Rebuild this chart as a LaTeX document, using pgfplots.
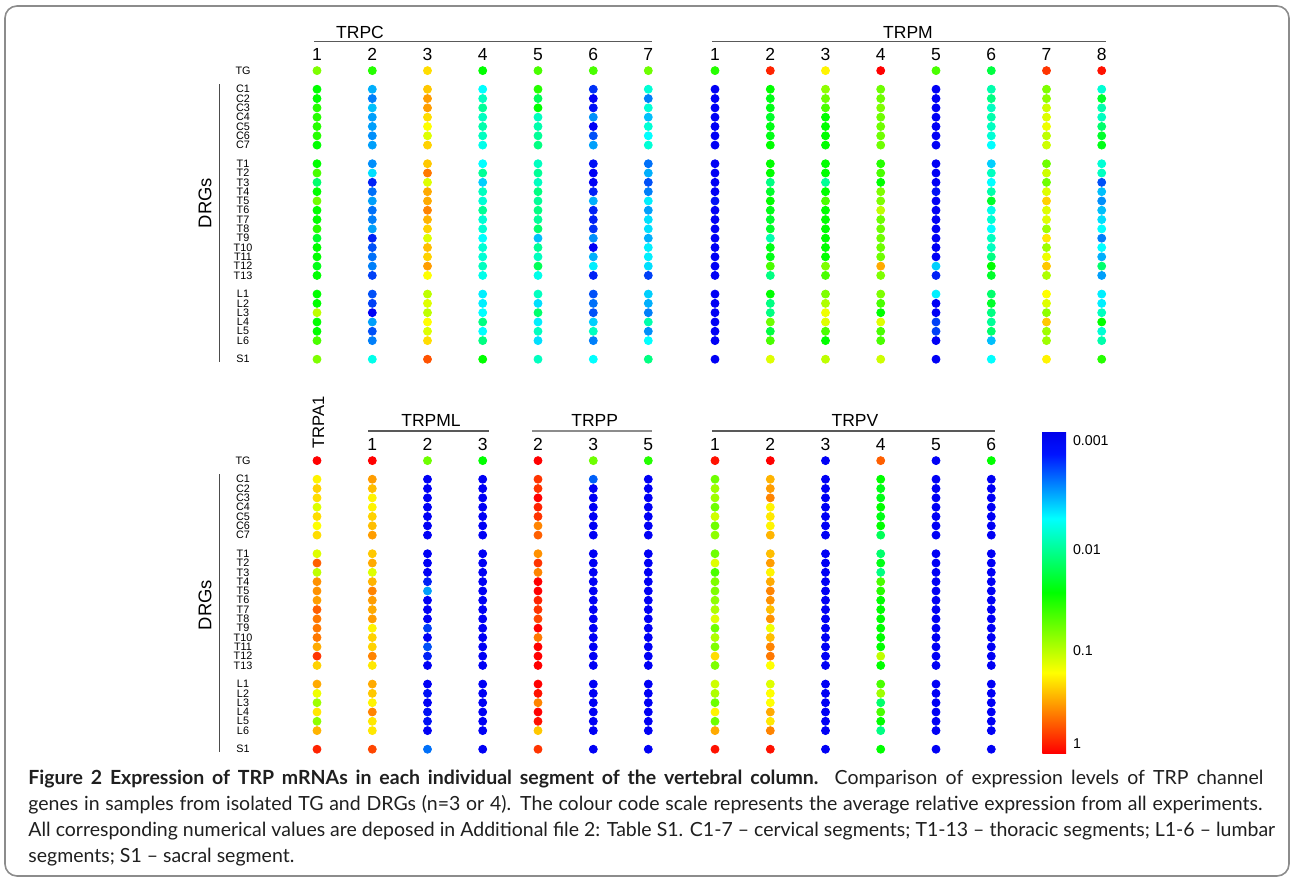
\documentclass[border=0pt]{standalone}
\usepackage{fontspec}
\setmainfont{Liberation Sans}
\newfontfamily\capfont{Lato}
\usepackage{pgfplots}
\usepackage{pgfplotstable}
\pgfplotsset{compat=1.18}

\pgfplotsset{
  colormap={barmap}{rgb255(0pt)=(255,0,0) rgb255(25pt)=(255,255,0) rgb255(50pt)=(0,255,0) rgb255(73pt)=(0,255,255) rgb255(93pt)=(0,20,255) rgb255(100pt)=(0,0,235)},
  colormap={dotmap}{rgb255(0pt)=(0,0,245) rgb255(80pt)=(0,255,255) rgb255(110pt)=(0,255,130) rgb255(140pt)=(0,255,0) rgb255(155pt)=(110,255,0) rgb255(180pt)=(190,255,0) rgb255(200pt)=(255,255,0) rgb255(220pt)=(255,210,0) rgb255(240pt)=(255,170,0) rgb255(260pt)=(255,120,0) rgb255(280pt)=(255,70,0) rgb255(300pt)=(255,0,0)},
  dots/.style={scatter, only marks, mark=*, mark size=2pt, point meta=explicit,
    scatter/use mapped color={draw=mapped color, fill=mapped color}},
  dotaxis/.style={anchor=north west, x=0.5pt, y=4.655pt, xmin=243, xmax=1110,
    ymin=-31.6, ymax=1.14, clip=false, axis line style={draw=none},
    major tick length=0pt, colormap name=dotmap, point meta min=-3, point meta max=0,
    xticklabel pos=right,
    xticklabel style={font=\fontsize{8.75pt}{10pt}\selectfont, anchor=base, inner sep=0pt},
    yticklabel style={font=\fontsize{5.4pt}{6pt}\selectfont, anchor=center},
    ytick={0,-2,-3,-4,-5,-6,-7,-8,-10,-11,-12,-13,-14,-15,-16,-17,-18,-19,-20,-21,-22,-24,-25,-26,-27,-28,-29,-31},
    yticklabels={TG,C1,C2,C3,C4,C5,C6,C7,T1,T2,T3,T4,T5,T6,T7,T8,T9,T10,T11,T12,T13,L1,L2,L3,L4,L5,L6,S1}},
}

% log10 relative expression (colour code), rows: TG, C1-7, T1-13, L1-6, S1
\pgfplotstableread{
r  C1    C2    C3    C4    C5    C6    C7    M1    M2    M3    M4    M5    M6    M7    M8
0  -1.4  -1.55 -0.85 -1.6  -1.5  -1.5  -1.45 -1.55 -0.1  -0.95 0     -1.5  -1.75 -0.15 -0.05
2  -1.6  -2.45 -0.75 -2.2  -1.55 -2.85 -2.1  -3    -1.6  -1.35 -1.45 -3    -2.0  -1.4  -2.1
3  -1.6  -2.6  -0.55 -2.05 -1.8  -3.0  -2.6  -3    -1.65 -1.45 -1.45 -3    -1.9  -1.35 -1.7
4  -1.55 -2.4  -0.55 -1.95 -1.6  -2.95 -2.1  -3    -1.65 -1.5  -1.4  -3    -2.05 -1.15 -2.0
5  -1.55 -2.5  -0.85 -2.05 -2.05 -2.55 -2.4  -3    -1.7  -1.6  -1.45 -3    -2.0  -1.1  -2.05
6  -1.55 -2.5  -1.0  -2.0  -2.0  -3.0  -2.1  -3    -1.65 -1.6  -1.45 -3    -2.05 -1.05 -1.85
7  -1.55 -2.55 -1.1  -2.05 -1.95 -2.75 -2.2  -3    -1.65 -1.6  -1.45 -3    -2.1  -1.2  -1.7
8  -1.6  -2.5  -0.8  -2.15 -1.9  -2.5  -2.1  -3    -1.6  -1.6  -1.45 -3    -2.2  -1.15 -1.65
10 -1.6  -2.55 -0.75 -2.2  -2.05 -2.95 -2.65 -3    -1.6  -1.6  -1.55 -3    -2.35 -1.45 -2.1
11 -1.5  -2.3  -0.4  -1.95 -1.95 -3.0  -2.45 -3    -1.6  -1.6  -1.5  -3    -2.05 -1.15 -2.05
12 -1.85 -2.9  -1.1  -2.35 -2.05 -3.0  -2.75 -3    -1.9  -1.95 -1.6  -3    -2.2  -1.45 -2.75
13 -1.6  -2.65 -0.6  -2.05 -1.9  -2.9  -2.6  -3    -1.7  -1.6  -1.4  -2.95 -2.0  -1.1  -2.4
14 -1.45 -2.5  -0.6  -2.1  -1.95 -2.45 -2.25 -2.95 -1.6  -1.5  -1.4  -3    -1.7  -0.8  -2.55
15 -1.6  -2.65 -0.45 -1.95 -1.9  -2.9  -2.5  -3    -1.65 -1.6  -1.2  -3    -2.15 -1.1  -2.4
16 -1.6  -2.6  -0.65 -2.1  -1.95 -2.9  -2.3  -3    -1.7  -1.6  -1.45 -3    -2.1  -1.1  -2.3
17 -1.55 -2.5  -0.8  -2.1  -1.85 -2.85 -2.3  -3    -1.7  -1.6  -1.45 -3    -2.2  -1.3  -2.2
18 -1.7  -2.9  -1.1  -2.2  -2.4  -2.55 -2.45 -3    -2.0  -1.6  -1.45 -3    -2.05 -0.9  -2.6
19 -1.6  -2.75 -0.7  -2.1  -1.95 -3.0  -2.25 -3    -1.65 -1.6  -1.45 -3    -2.05 -1.3  -2.2
20 -1.6  -2.65 -0.8  -2.1  -2.05 -2.45 -2.25 -3    -1.65 -1.6  -1.45 -3    -1.9  -1.05 -2.45
21 -1.65 -2.6  -0.55 -2.05 -1.8  -2.25 -2.3  -3    -1.5  -1.4  -0.6  -2.35 -1.6  -0.75 -1.85
22 -1.6  -2.8  -1.0  -2.15 -2.15 -2.9  -2.8  -3    -1.9  -1.5  -1.4  -2.9  -1.7  -1.25 -2.5
24 -1.6  -2.75 -1.2  -2.25 -2.05 -2.75 -2.35 -3    -1.6  -1.4  -1.4  -2.25 -1.85 -1.0  -2.25
25 -1.6  -2.8  -1.1  -2.25 -2.3  -2.65 -2.45 -3    -1.9  -1.25 -1.5  -3    -1.7  -1.1  -2.25
26 -1.2  -3.0  -1.2  -2.2  -1.85 -2.75 -2.6  -3    -1.9  -1.05 -1.6  -3    -1.9  -1.35 -2.05
27 -1.6  -2.5  -1.0  -1.9  -2.25 -2.35 -2.0  -3    -1.45 -1.1  -1.1  -2.8  -1.95 -0.75 -1.6
28 -1.6  -2.75 -1.1  -2.2  -2.05 -2.05 -2.55 -3    -1.75 -1.5  -1.5  -2.8  -1.85 -1.3  -2.1
29 -1.5  -2.6  -0.85 -1.9  -2.3  -2.6  -2.2  -3    -1.5  -1.6  -1.5  -3    -2.4  -1.3  -2.0
31 -1.4  -2.15 -0.25 -1.6  -2.05 -2.2  -1.9  -3    -1.1  -1.2  -1.15 -3    -2.2  -0.95 -1.55
}\toptab

\pgfplotstableread{
r  A1    ML1   ML2   ML3   P2    P3    P5    V1    V2    V3    V4    V5    V6
0  0     0     -1.45 -1.6  0     -1.45 -1.55 -0.05 0     -3    -0.3  -3    -1.6
2  -0.95 -0.55 -3    -3    -0.15 -2.7  -3    -1.45 -0.65 -3    -1.6  -3    -3
3  -0.8  -0.7  -3    -3    -0.15 -3    -3    -1.3  -0.55 -3    -1.65 -3    -3
4  -0.85 -0.95 -3    -3    0     -3    -3    -1.3  -0.45 -3    -1.65 -3    -3
5  -1.1  -0.95 -3    -3    -0.1  -3    -3    -1.45 -0.95 -3    -1.6  -3    -3
6  -0.85 -0.8  -3    -3    -0.15 -3    -3    -1.15 -0.9  -3    -1.65 -3    -3
7  -1.0  -0.7  -3    -3    -0.45 -3    -3    -1.45 -0.95 -3    -1.6  -3    -3
8  -0.85 -0.55 -3    -3    -0.3  -3    -3    -1.35 -0.65 -3    -1.8  -3    -3
10 -1.1  -0.75 -3    -3    -0.5  -3    -3    -1.45 -0.7  -3    -1.85 -3    -3
11 -0.3  -0.6  -3    -3    -0.15 -3    -3    -1.1  -0.55 -3    -1.65 -3    -3
12 -1.2  -1.1  -3    -3    -0.45 -3    -3    -1.5  -0.95 -3    -1.9  -3    -3
13 -0.5  -0.65 -2.9  -3    0     -3    -3    -1.4  -0.6  -3    -1.5  -3    -3
14 -0.5  -0.45 -2.5  -3    0     -3    -3    -1.4  -0.45 -3    -1.55 -3    -3
15 -0.55 -0.55 -3    -3    -0.1  -3    -3    -1.35 -0.5  -3    -1.6  -3    -3
16 -0.3  -0.6  -3    -3    -0.15 -3    -3    -1.25 -0.7  -3    -1.6  -3    -3
17 -0.4  -0.55 -3    -3    -0.2  -3    -3    -1.1  -0.5  -3    -1.6  -3    -3
18 -0.4  -0.95 -2.8  -3    0     -3    -3    -1.45 -1.05 -3    -1.6  -3    -3
19 -0.4  -0.8  -3    -3    -0.4  -3    -3    -1.25 -0.7  -3    -1.6  -3    -3
20 -0.6  -0.8  -2.75 -3    0     -3    -3    -1.4  -0.45 -3    -1.6  -3    -3
21 -0.15 -0.45 -2.9  -3    0     -3    -3    -0.85 -0.4  -3    -1.2  -3    -3
22 -0.8  -0.9  -3    -3    0     -3    -3    -1.4  -1.0  -3    -1.6  -3    -3
24 -0.6  -0.6  -3    -3    0     -3    -3    -1.15 -1.1  -3    -1.5  -3    -3
25 -1.05 -0.75 -2.95 -3    -0.05 -3    -3    -1.25 -1.0  -3    -1.3  -3    -3
26 -1.3  -0.95 -3    -3    -0.45 -3    -3    -1.45 -1.0  -3    -1.85 -3    -3
27 -0.9  -0.45 -2.95 -3    0     -3    -3    -0.95 -0.6  -3    -1.5  -3    -3
28 -1.35 -0.9  -2.95 -3    -0.05 -3    -3    -1.45 -0.9  -3    -1.6  -3    -3
29 -0.65 -0.9  -3    -3    -0.75 -3    -3    -0.6  -0.45 -3    -1.9  -3    -3
31 -0.1  -0.2  -2.65 -3    -0.15 -3    -3    -0.05 -0.05 -3    -1.6  -3    -3
}\bottab

\begin{document}
\begin{tikzpicture}
\begin{scope}[x=0.5pt,y=-0.5pt]
  \useasboundingbox (0,0) rectangle (1292,880);
  \draw[black!45, line width=0.8pt, rounded corners=6pt] (5,6) rectangle (1289,876);
\end{scope}

% ---------- top panel: TRPC and TRPM ----------
\begin{axis}[dotaxis, at={(121.5pt,-30pt)},
  xtick={317,372.3,427.5,482.7,538,593.3,648.3,715,770.3,825.5,880.7,936,991.3,1046.5,1101.7},
  xticklabels={1,2,3,4,5,6,7,1,2,3,4,5,6,7,8}]
\addplot[dots] table[x expr=317,    y expr=-\thisrow{r}, meta=C1] {\toptab};
\addplot[dots] table[x expr=372.3,  y expr=-\thisrow{r}, meta=C2] {\toptab};
\addplot[dots] table[x expr=427.5,  y expr=-\thisrow{r}, meta=C3] {\toptab};
\addplot[dots] table[x expr=482.7,  y expr=-\thisrow{r}, meta=C4] {\toptab};
\addplot[dots] table[x expr=538,    y expr=-\thisrow{r}, meta=C5] {\toptab};
\addplot[dots] table[x expr=593.3,  y expr=-\thisrow{r}, meta=C6] {\toptab};
\addplot[dots] table[x expr=648.3,  y expr=-\thisrow{r}, meta=C7] {\toptab};
\addplot[dots] table[x expr=715,    y expr=-\thisrow{r}, meta=M1] {\toptab};
\addplot[dots] table[x expr=770.3,  y expr=-\thisrow{r}, meta=M2] {\toptab};
\addplot[dots] table[x expr=825.5,  y expr=-\thisrow{r}, meta=M3] {\toptab};
\addplot[dots] table[x expr=880.7,  y expr=-\thisrow{r}, meta=M4] {\toptab};
\addplot[dots] table[x expr=936,    y expr=-\thisrow{r}, meta=M5] {\toptab};
\addplot[dots] table[x expr=991.3,  y expr=-\thisrow{r}, meta=M6] {\toptab};
\addplot[dots] table[x expr=1046.5, y expr=-\thisrow{r}, meta=M7] {\toptab};
\addplot[dots] table[x expr=1101.7, y expr=-\thisrow{r}, meta=M8] {\toptab};
\end{axis}

% ---------- bottom panel: TRPA1, TRPML, TRPP, TRPV ----------
\begin{axis}[dotaxis, at={(121.5pt,-225pt)},
  xtick={317,372.3,427.5,482.7,538,593.3,648.3,715,770.3,825.5,880.7,936,991.3},
  xticklabels={,1,2,3,2,3,5,1,2,3,4,5,6}]
\addplot[dots] table[x expr=317,   y expr=-\thisrow{r}, meta=A1]  {\bottab};
\addplot[dots] table[x expr=372.3, y expr=-\thisrow{r}, meta=ML1] {\bottab};
\addplot[dots] table[x expr=427.5, y expr=-\thisrow{r}, meta=ML2] {\bottab};
\addplot[dots] table[x expr=482.7, y expr=-\thisrow{r}, meta=ML3] {\bottab};
\addplot[dots] table[x expr=538,   y expr=-\thisrow{r}, meta=P2]  {\bottab};
\addplot[dots] table[x expr=593.3, y expr=-\thisrow{r}, meta=P3]  {\bottab};
\addplot[dots] table[x expr=648.3, y expr=-\thisrow{r}, meta=P5]  {\bottab};
\addplot[dots] table[x expr=715,   y expr=-\thisrow{r}, meta=V1]  {\bottab};
\addplot[dots] table[x expr=770.3, y expr=-\thisrow{r}, meta=V2]  {\bottab};
\addplot[dots] table[x expr=825.5, y expr=-\thisrow{r}, meta=V3]  {\bottab};
\addplot[dots] table[x expr=880.7, y expr=-\thisrow{r}, meta=V4]  {\bottab};
\addplot[dots] table[x expr=936,   y expr=-\thisrow{r}, meta=V5]  {\bottab};
\addplot[dots] table[x expr=991.3, y expr=-\thisrow{r}, meta=V6]  {\bottab};
\end{axis}

% ---------- colour scale (meta = -log10 of relative expression) ----------
\begin{axis}[at={(521.15pt,-215.85pt)}, anchor=north west, hide axis, scale only axis,
  width=11.85pt, height=160.65pt, xmin=0, xmax=1, ymin=0, ymax=1,
  colormap name=barmap, point meta min=0, point meta max=3,
  colorbar, colorbar shift/.style={},
  colorbar style={at={(parent axis.north west)}, anchor=north west, scale only axis,
    width=11.85pt, height=160.65pt,
    ytick={0.09,0.96,1.9,2.92}, yticklabels={1,0.1,0.01,0.001},
    major tick length=0pt, axis line style={draw=none},
    yticklabel style={font=\fontsize{7.1pt}{8pt}\selectfont}}]
\addplot[draw=none] coordinates {(0.5,0.5)};
\end{axis}

% ---------- headers, group lines, captions ----------
\begin{scope}[x=0.5pt,y=-0.5pt]
  \tikzset{hdr/.style={font=\fontsize{8.75pt}{10pt}\selectfont, anchor=base, inner sep=0pt},
           grp/.style={draw=black!65, line width=0.6pt}}
  \node[hdr] at (360,38.3) {TRPC};
  \draw[grp] (314,41.5) -- (652,41.5);
  \node[hdr] at (908,38.3) {TRPM};
  \draw[grp] (712,41.5) -- (1106,41.5);

  \node[font=\fontsize{8.3pt}{10pt}\selectfont, rotate=90, inner sep=0pt] at (318.5,422.5) {TRPA1};
  \node[hdr] at (431,426.7) {TRPML};
  \draw[grp] (368,431) -- (489,431);
  \node[hdr] at (594.7,426.7) {TRPP};
  \draw[grp, draw=black!45] (532,431) -- (652,431);
  \node[hdr] at (855,426.7) {TRPV};
  \draw[grp] (712,431) -- (995,431);

  \node[font=\fontsize{9.2pt}{10pt}\selectfont, rotate=90, inner sep=0pt] at (205,203) {DRGs};
  \draw[black!70, line width=0.5pt] (219.5,84) -- (219.5,362);
  \node[font=\fontsize{9.2pt}{10pt}\selectfont, rotate=90, inner sep=0pt] at (205,605) {DRGs};
  \draw[black!70, line width=0.5pt] (219.5,474) -- (219.5,752);

  \node[anchor=north west, align=left, inner sep=0pt, text=black!88,
        font=\capfont\fontsize{9.75pt}{12.85pt}\selectfont] at (28,770)
  {\makebox[617.5pt][s]{\textbf{Figure 2 Expression of TRP mRNAs in each individual segment of the vertebral column.} Comparison of expression levels of TRP channel}\\
   \makebox[617pt][s]{genes in samples from isolated TG and DRGs (n=3 or 4). The colour code scale represents the average relative expression from all experiments.}\\
   All corresponding numerical values are deposed in Additional file 2: Table S1. C1-7 – cervical segments; T1-13 – thoracic segments; L1-6 – lumbar\\
   segments; S1 – sacral segment.};
\end{scope}
\end{tikzpicture}
\end{document}
